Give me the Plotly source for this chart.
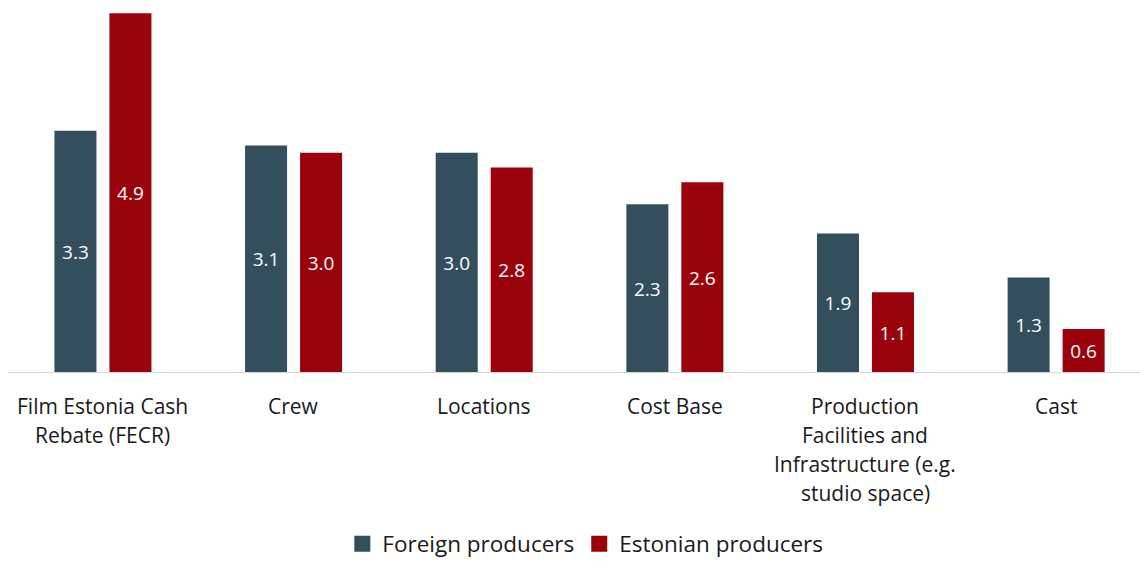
import plotly.graph_objects as go

categories = [
    ["Film Estonia Cash", "Rebate (FECR)"],
    ["Crew"],
    ["Locations"],
    ["Cost Base"],
    ["Production", "Facilities and", "Infrastructure (e.g.", "studio space)"],
    ["Cast"],
]
foreign = [3.3, 3.1, 3.0, 2.3, 1.9, 1.3]
estonian = [4.9, 3.0, 2.8, 2.6, 1.1, 0.6]
series_names = ["Foreign producers", "Estonian producers"]
colors = ["#334e5c", "#9b030c"]

FONT = "Open Sans"
xs = list(range(len(categories)))

fig = go.Figure()
for name, vals, col in zip(series_names, [foreign, estonian], colors):
    fig.add_trace(go.Bar(
        x=xs, y=vals, name=name, marker_color=col, marker_line_width=0,
        text=[f"{v:.1f}" for v in vals], textposition="inside",
        insidetextanchor="middle", textangle=0,
        textfont=dict(color="white", size=19, family=FONT),
        showlegend=False, hoverinfo="skip",
    ))
    # legend swatch
    fig.add_trace(go.Scatter(
        x=[None], y=[None], mode="markers", name=name,
        marker=dict(symbol="square", size=16, color=col),
    ))

# multi-line category labels under the axis
for i, lines in enumerate(categories):
    for j, line in enumerate(lines):
        fig.add_annotation(
            x=i, y=0, xref="x", yref="y", text=line, showarrow=False,
            yanchor="middle", yshift=-33 - 29 * j,
            font=dict(size=21, family=FONT, color="#1a1a1a"),
        )

fig.update_layout(
    width=1140, height=561,
    margin=dict(l=8, r=0, t=6, b=188, autoexpand=False),
    plot_bgcolor="white", paper_bgcolor="white",
    barmode="group", bargap=0.423, bargroupgap=0.236,
    font=dict(family=FONT, size=20, color="#1a1a1a"),
    xaxis=dict(range=[-0.498, 5.44], showticklabels=False, showgrid=False,
               zeroline=False, showline=False, fixedrange=True),
    yaxis=dict(range=[0, 5.0], visible=False, fixedrange=True),
    legend=dict(orientation="h", x=0.51, xanchor="center", y=-0.466,
                yanchor="middle", font=dict(size=22.5, family=FONT, color="#1a1a1a"),
                itemwidth=30, traceorder="normal"),
    shapes=[dict(type="line", xref="paper", yref="y", x0=0, x1=1, y0=0, y1=0,
                 line=dict(color="#d4d4d4", width=2))],
)

fig.write_html("out.html")
